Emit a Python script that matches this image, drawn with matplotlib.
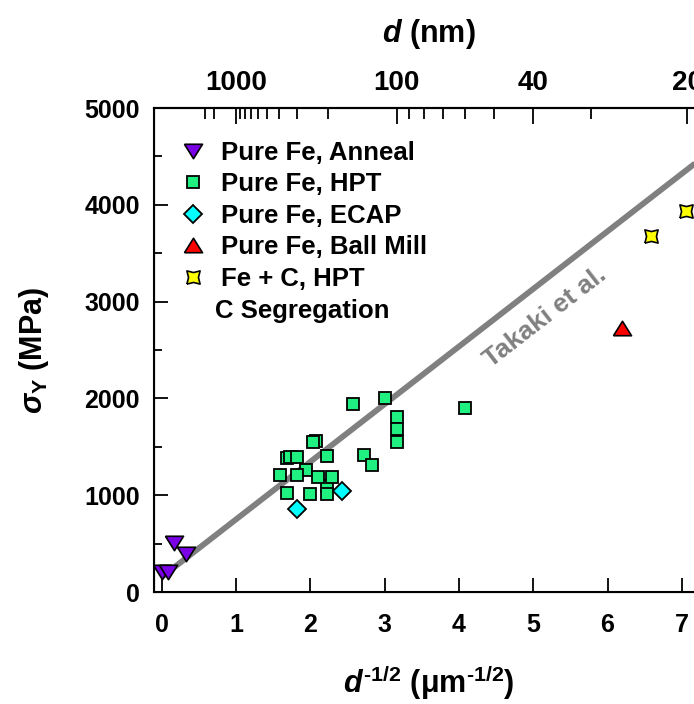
import numpy as np
import matplotlib
matplotlib.use('Agg')
import matplotlib.pyplot as plt
from matplotlib.ticker import MultipleLocator

plt.rcParams['font.family'] = 'Liberation Sans'
plt.rcParams['font.weight'] = 'bold'
plt.rcParams['axes.labelweight'] = 'bold'
plt.rcParams['mathtext.fontset'] = 'custom'
plt.rcParams['mathtext.rm'] = 'Liberation Sans:bold'
plt.rcParams['mathtext.it'] = 'Liberation Sans:italic:bold'
plt.rcParams['mathtext.bf'] = 'Liberation Sans:bold'

# data: x = d^-1/2 (um^-1/2), y = yield stress (MPa)
anneal_x = [0.01, 0.08, 0.17, 0.32]
anneal_y = [205, 205, 505, 395]

hpt_x = [2.57, 3.01, 3.16, 3.16, 3.16, 2.08, 2.04, 1.69, 1.72, 1.82, 2.23, 2.72, 2.83,
         1.94, 1.59, 1.82, 2.23, 2.10, 2.29, 1.68, 2.00, 2.23, 4.08]
hpt_y = [1940, 2005, 1810, 1680, 1545, 1565, 1550, 1385, 1395, 1395, 1400, 1420, 1315,
         1260, 1210, 1210, 1100, 1190, 1190, 1025, 1010, 1015, 1905]

ecap_x = [1.82, 2.43]
ecap_y = [855, 1040]

ballmill_x = [6.20]
ballmill_y = [2730]

fec_x = [6.59, 7.06]
fec_y = [3680, 3940]

takaki_x = [0.0, 7.3]
takaki_y = [155, 4500]

# top axis: grain size d in nm
top_major = [1000, 100, 40, 20]
top_minor = [3000, 2000, 900, 800, 700, 600, 500, 400, 300, 200, 90, 80, 70, 60, 50, 30]

fig = plt.figure(figsize=(6.94, 7.04), dpi=100)
ax = fig.add_axes([154/694, 1-592/704, (703-154)/694, (592-108)/704])

tri_down = [(-1, 0.8), (1, 0.8), (0, -0.8), (-1, 0.8)]
tri_up = [(-1, -0.8), (1, -0.8), (0, 0.8), (-1, -0.8)]
star4 = [(-1, -1), (0, -0.75), (1, -1), (0.75, 0), (1, 1), (0, 0.75), (-1, 1), (-0.75, 0), (-1, -1)]

ax.plot(takaki_x, takaki_y, color='#808080', lw=4.2, solid_capstyle='butt', zorder=1)

h1, = ax.plot(anneal_x, anneal_y, ls='none', marker=tri_down, ms=13, mfc='#7A00E6', mec='black', mew=1.2,
              label='Pure Fe, Anneal')
h2, = ax.plot(hpt_x, hpt_y, ls='none', marker='s', ms=9.2, mfc='#20F080', mec='black', mew=1.3,
              label='Pure Fe, HPT')
h3, = ax.plot(ecap_x, ecap_y, ls='none', marker='D', ms=9.4, mfc='#00FFFF', mec='black', mew=1.3,
              label='Pure Fe, ECAP')
h4, = ax.plot(ballmill_x, ballmill_y, ls='none', marker=tri_up, ms=13, mfc='#FF0000', mec='black', mew=1.2,
              label='Pure Fe, Ball Mill')
h5, = ax.plot(fec_x, fec_y, ls='none', marker=star4, ms=9.5, mfc='#FFFF00', mec='black', mew=1.2,
              label='Fe + C, HPT')

ax.set_xlim(-0.104, 7.285)
ax.set_ylim(0, 5000)
ax.xaxis.set_major_locator(MultipleLocator(1))
ax.yaxis.set_major_locator(MultipleLocator(1000))
ax.yaxis.set_minor_locator(MultipleLocator(500))
ax.tick_params(axis='both', which='both', direction='in', width=1.3, labelsize=18)
ax.tick_params(axis='both', which='major', length=10)
ax.tick_params(axis='y', which='minor', length=5.8)
ax.tick_params(axis='x', pad=15)
ax.tick_params(axis='y', pad=10)
ax.spines['right'].set_visible(False)
for s in ['left', 'bottom', 'top']:
    ax.spines[s].set_linewidth(1.5)

ax.set_xlabel(r'$d^{\text{-1/2}}$ ($\mathregular{\mu}$m$^{\text{-1/2}}$)', fontsize=22, labelpad=19)
ax.set_ylabel(r'$\sigma_{\mathrm{Y}}$ (MPa)', fontsize=22, labelpad=24)

ax2 = ax.twiny()
ax2.set_xlim(ax.get_xlim())
ax2.set_xticks([1 / np.sqrt(d / 1000) for d in top_major])
ax2.set_xticklabels([str(d) for d in top_major])
ax2.set_xticks([1 / np.sqrt(d / 1000) for d in top_minor], minor=True)
ax2.tick_params(axis='x', which='both', direction='in', width=1.3, labelsize=20, pad=9)
ax2.tick_params(axis='x', which='major', length=11.5)
ax2.tick_params(axis='x', which='minor', length=8)
ax2.spines['right'].set_visible(False)
ax2.spines['top'].set_linewidth(1.5)
ax2.set_xlabel(r'$d$ (nm)', fontsize=22, labelpad=20)

leg = ax.legend(handles=[h1, h2, h3, h4, h5], loc='upper left', bbox_to_anchor=(180/694, 1-141/704),
                bbox_transform=fig.transFigure, frameon=False, fontsize=18.5, handlelength=1.0,
                handletextpad=0.6, labelspacing=0.29, borderpad=0, borderaxespad=0)
ax.text(215, 704-311, 'C Segregation', transform=None, fontsize=18.5, va='center', ha='left')

# label along the Takaki line
p0 = ax.transData.transform((takaki_x[0], takaki_y[0]))
p1 = ax.transData.transform((takaki_x[1], takaki_y[1]))
ang = np.degrees(np.arctan2(p1[1] - p0[1], p1[0] - p0[0]))
ax.text(5.16, 2840, 'Takaki et al.', color='#808080', fontsize=19, rotation=ang,
        rotation_mode='anchor', ha='center', va='center')

fig.savefig('out.png', dpi=100)
